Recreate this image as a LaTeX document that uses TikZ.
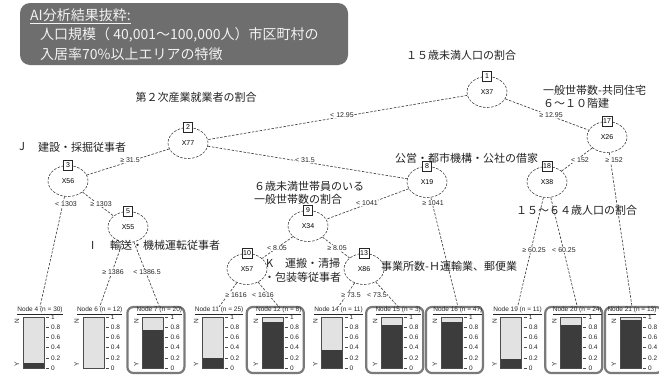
\documentclass[tikz,border=0pt]{standalone}
\usepackage{fontspec}
\setmainfont{Liberation Sans}
\newfontfamily\jp{Noto Sans CJK JP}
\usetikzlibrary{shapes.geometric}
\definecolor{boxgray}{HTML}{6E6E6E}
\definecolor{txtgray}{HTML}{222222}
\definecolor{edgegray}{HTML}{404040}
\definecolor{lightbar}{HTML}{E2E2E2}
\definecolor{darkbar}{HTML}{3C3C3C}
\definecolor{hlgray}{HTML}{7A7A7A}
\tikzset{
  inode/.style={ellipse, draw=edgegray, line width=0.6pt, dash pattern=on 2.5pt off 1.5pt, fill=white, minimum width=40pt, minimum height=31pt, inner sep=0pt, font=\fontsize{7}{8}\selectfont},
  idbox/.style={draw=black!85, line width=0.5pt, fill=white, inner sep=1pt, minimum height=10pt, minimum width=9pt, font=\fontsize{7}{8}\selectfont},
  conn/.style={draw=edgegray, dash pattern=on 2.5pt off 1.5pt, line width=0.65pt},
  elab/.style={fill=white, inner sep=0.5pt, font=\fontsize{7}{8}\selectfont, text=black!85},
  ann/.style={font=\jp\fontsize{11}{13}\selectfont, text=txtgray, inner sep=0pt},
  ptitle/.style={font=\fontsize{6.5}{7}\selectfont, inner sep=0pt, text=black!85},
  tick/.style={font=\fontsize{6.5}{7}\selectfont, inner sep=0pt, anchor=west, text=black!85},
  hlbox/.style={draw=hlgray, line width=2.2pt, rounded corners=6pt}
}
\newcommand\termpanel[6]{%
  \pgfmathsetmacro\bl{23+59.7*#1}%
  \pgfmathsetmacro\bt{368-51*#4}%
  \ifnum#5=1 \draw[hlbox] (\bl-15,307) rectangle (\bl+42,373);\fi
  \node[ptitle] (t#2) at (\bl+17-#6,311) {\underline{Node #2 (n = #3)}};
  \fill[lightbar] (\bl,317) rectangle (\bl+21,368);
  \fill[darkbar] (\bl,368) rectangle (\bl+21,\bt);
  \draw[black!70, line width=0.4pt] (\bl,317) rectangle (\bl+21,368);
  \foreach \v/\l in {0/0,0.2/0.2,0.4/0.4,0.6/0.6,0.8/0.8,1/1}{
    \draw[black!70, line width=0.4pt] (\bl+23,{368-51*\v}) -- (\bl+26,{368-51*\v});
    \node[tick] at (\bl+28,{368-51*\v}) {\l};
  }
  \node[ptitle, rotate=90] at (\bl-6,321) {N};
  \node[ptitle, rotate=90] at (\bl-6,364) {Y};
}
\begin{document}
\begin{tikzpicture}[x=1pt, y=-1pt]
\useasboundingbox (0,0) rectangle (659,375);

% header box
\fill[boxgray, rounded corners=10pt] (20,3) rectangle (348,65);
\node[font=\jp\fontsize{14}{16}\selectfont, text=white!95!black, anchor=west, inner sep=0pt] (h1) at (30,16) {\underline{AI分析結果抜粋:}};
\node[font=\jp\fontsize{14}{16}\selectfont, text=white!95!black, anchor=west, inner sep=0pt] (h2) at (40,35) {人口規模（ 40,001～100,000人）市区町村の};
\node[font=\jp\fontsize{14}{16}\selectfont, text=white!95!black, anchor=west, inner sep=0pt] (h3) at (40,54) {入居率70\%以上エリアの特徴};

% terminal panels
\termpanel{0}{4}{30}{0.1}{0}{0}
\termpanel{1}{6}{12}{0}{0}{0}
\termpanel{2}{7}{20}{0.75}{1}{0}
\termpanel{3}{11}{25}{0.2}{0}{0}
\termpanel{4}{12}{8}{0.9}{1}{0}
\termpanel{5}{14}{11}{0.35}{0}{0}
\termpanel{6}{15}{3}{0.85}{1}{0}
\termpanel{7}{16}{47}{0.9}{1}{0}
\termpanel{8}{19}{11}{0.18}{0}{0}
\termpanel{9}{20}{24}{0.85}{1}{0}
\termpanel{10}{21}{13}{0.95}{1}{5}

% inner nodes
\node[inode] (n1) at (487,92) {X37};
\node[inode] (n2) at (188,143) {X77};
\node[inode] (n3) at (68,181) {X56};
\node[inode] (n5) at (128,227) {X55};
\node[inode] (n8) at (427,182) {X19};
\node[inode] (n9) at (308,226) {X34};
\node[inode] (n10) at (247,269) {X57};
\node[inode] (n13) at (364,269) {X86};
\node[inode] (n17) at (607,137) {X26};
\node[inode] (n18) at (547,182) {X38};

% edges
\draw[conn] (n1) -- (n2);
\draw[conn] (n1) -- (n17);
\draw[conn] (n2) -- (n3);
\draw[conn] (n2) -- (n8);
\draw[conn] (n3) -- (t4.north);
\draw[conn] (n3) -- (n5);
\draw[conn] (n5) -- (t6.north);
\draw[conn] (n5) -- (t7.north);
\draw[conn] (n8) -- (n9);
\draw[conn] (n8) -- (t16.north);
\draw[conn] (n9) -- (n10);
\draw[conn] (n9) -- (n13);
\draw[conn] (n10) -- (t11.north);
\draw[conn] (n10) -- (t12.north);
\draw[conn] (n13) -- (t14.north);
\draw[conn] (n13) -- (t15.north);
\draw[conn] (n17) -- (n18);
\draw[conn] (n17) -- (t21.north);
\draw[conn] (n18) -- (t19.north);
\draw[conn] (n18) -- (t20.north);

% id boxes
\foreach \n in {1,2,3,5,8,9,10,13,17,18}{
  \node[idbox] (b\n) at (n\n.north) {\n};
}

% edge labels
\node[elab] (l1) at (342,115) {< 12.95};
\node[elab] (l2) at (551,115) {≥ 12.95};
\node[elab] (l3) at (130,160) {≥ 31.5};
\node[elab] (l4) at (305,160) {< 31.5};
\node[elab] (l5) at (66,204) {< 1303};
\node[elab] (l6) at (101,204) {≥ 1303};
\node[elab] (l7) at (113,272) {≥ 1386};
\node[elab] (l8) at (147,272) {< 1386.5};
\node[elab] (l9) at (367,203) {< 1041};
\node[elab] (l10) at (433,203) {≥ 1041};
\node[elab] (l11) at (277,248) {< 8.05};
\node[elab] (l12) at (337,248) {≥ 8.05};
\node[elab] (l13) at (236,295) {≥ 1616};
\node[elab] (l14) at (263,295) {< 1616};
\node[elab] (l15) at (351,295) {≥ 73.5};
\node[elab] (l16) at (377,295) {< 73.5};
\node[elab] (l17) at (580,160) {< 152};
\node[elab] (l18) at (614,160) {≥ 152};
\node[elab] (l19) at (534,250) {≥ 60.25};
\node[elab] (l20) at (564,250) {< 60.25};

% annotations
\node[ann] (a1) at (461,55) {１５歳未満人口の割合};
\node[ann, anchor=west, align=left] (a2) at (543,97) {一般世帯数-共同住宅\\６～１０階建};
\node[ann] (a3) at (196,97) {第２次産業就業者の割合};
\node[ann, anchor=west] (a4) at (19,147) {J};
\node[ann, anchor=west] (a5) at (38,147) {建設・採掘従事者};
\node[ann, anchor=west] (a6) at (395,158) {公営・都市機構・公社の借家};
\node[ann, anchor=west, align=left] (a7) at (254,192.5) {６歳未満世帯員のいる\\一般世帯数の割合};
\node[ann, anchor=west] (a8) at (266,263) {K};
\node[ann, anchor=west] (a9) at (285,263) {運搬・清掃};
\node[ann, anchor=west] (a10) at (264,277) {・包装等従事者};
\node[ann, anchor=west] (a11) at (381,266) {事業所数-Ｈ運輸業、郵便業};
\node[ann, anchor=west] (a12) at (516,210) {１５～６４歳人口の割合};
\node[ann, anchor=west] (a13) at (91,245) {I};
\node[ann, anchor=west] (a14) at (110,245) {輸送・機械運転従事者};
\end{tikzpicture}
\end{document}
